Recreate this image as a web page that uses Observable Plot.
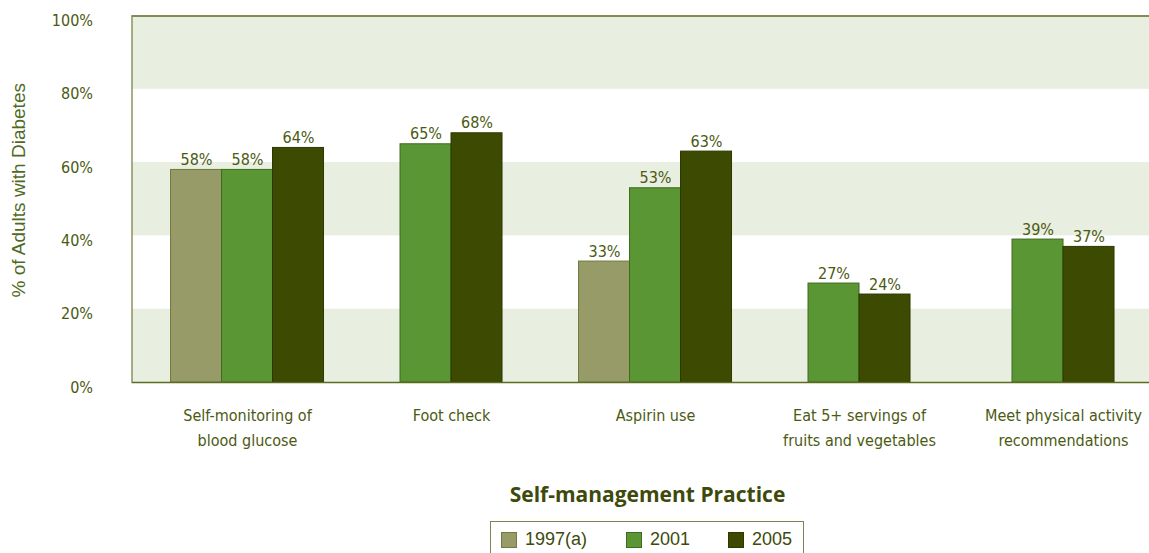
<!DOCTYPE html>
<html>
<head>
<meta charset="utf-8">
<script src="https://cdn.jsdelivr.net/npm/d3@7"></script>
<script src="https://cdn.jsdelivr.net/npm/@observablehq/plot@0.6"></script>
<style>
  html, body { margin: 0; padding: 0; background: #fff; width: 1149px; height: 553px; overflow: hidden; position: relative; }
  #title { position: absolute; left: 0; width: 1295px; top: 480px; text-align: center; font-family: "Open Sans", "Liberation Sans", sans-serif; font-weight: 700; font-size: 21px; color: #3d4a0c; }
  #legend { position: absolute; left: 490px; top: 521px; width: 314px; height: 40px; border: 1px solid #7d8652; box-sizing: border-box; font-family: "Liberation Sans", sans-serif; font-size: 18px; color: #3d4a0c; }
  .item { position: absolute; top: 7px; display: flex; align-items: center; }
  .sw { width: 16px; height: 16px; border: 1px solid #3d4a0c; box-sizing: border-box; margin-right: 8px; }
</style>
</head>
<body>
<div id="chart"></div>
<div id="title">Self-management Practice</div>
<div id="legend"></div>
<script>
const categories = ["Self-monitoring of\nblood glucose", "Foot check", "Aspirin use", "Eat 5+ servings of\nfruits and vegetables", "Meet physical activity\nrecommendations"];
const years = ["1997(a)", "2001", "2005"];
const v1997 = [58, null, 33, null, null];
const v2001 = [58, 65, 53, 27, 39];
const v2005 = [64, 68, 63, 24, 37];
const yTicks = [0, 20, 40, 60, 80, 100];
const bands = [[0, 20], [40, 60], [80, 100]];

const fills = {"1997(a)": "#979b67", "2001": "#5a9633", "2005": "#3d4a02"};
const strokes = {"1997(a)": "#6f7a3e", "2001": "#3f6b1f", "2005": "#2e3800"};
const series = [v1997, v2001, v2005];

const data = [];
categories.forEach((c, i) => {
  const present = years.map((y, k) => ({year: y, value: series[k][i]})).filter(d => d.value != null);
  const n = present.length;
  present.forEach((d, j) => {
    const x1 = 4 * i + j - n / 2;
    data.push({cat: c, year: d.year, value: d.value, x1, x2: x1 + 1});
  });
});

const olive = "#4b5a12";
const chart = Plot.plot({
  width: 1149,
  height: 470,
  marginLeft: 131.5,
  marginRight: 0,
  marginTop: 15.5,
  marginBottom: 88,
  style: {fontFamily: "'DejaVu Sans Condensed', sans-serif", fontSize: "16px", color: olive, background: "transparent"},
  x: {type: "linear", domain: [-2.265, 17.686]},
  y: {domain: [0, 100]},
  marks: [
    Plot.rect(bands, {y1: d => d[0], y2: d => d[1], fill: "#e8eee0"}),
    Plot.rectY(data, {x1: "x1", x2: "x2", y: "value", fill: d => fills[d.year], stroke: d => strokes[d.year], strokeWidth: 1}),
    Plot.text(data, {x: d => (d.x1 + d.x2) / 2, y: "value", text: d => d.value + "%", lineAnchor: "bottom", dy: -5, fill: olive, fontSize: 16}),
    Plot.ruleY([0, 100], {stroke: "#5c6b22", strokeWidth: 1.5}),
    Plot.ruleX([-2.265], {stroke: "#8a9560", strokeWidth: 1.5}),
    Plot.axisY({ticks: yTicks, tickFormat: d => d + "%", tickSize: 0, tickPadding: 39, dy: 5, label: null, fontSize: 16}),
    Plot.axisX({ticks: [0, 4, 8, 12, 16], tickFormat: d => categories[d / 4], tickSize: 0, tickPadding: 21, lineHeight: 1.55, label: null, fontSize: 16}),
    Plot.text(["% of Adults with Diabetes"], {frameAnchor: "left", textAnchor: "middle", rotate: -90, dx: -113.5, dy: -9, fontSize: 19, fill: "#4f6a1f", fontFamily: "'Liberation Sans', sans-serif"})
  ]
});
document.getElementById("chart").appendChild(chart);

const legend = document.getElementById("legend");
const lefts = [10, 135, 237];
years.forEach((y, k) => {
  const it = document.createElement("div");
  it.className = "item";
  it.style.left = lefts[k] + "px";
  const sw = document.createElement("div");
  sw.className = "sw";
  sw.style.background = fills[y];
  sw.style.borderColor = strokes[y];
  const t = document.createElement("span");
  t.textContent = y;
  it.appendChild(sw);
  it.appendChild(t);
  legend.appendChild(it);
});
</script>
</body>
</html>
